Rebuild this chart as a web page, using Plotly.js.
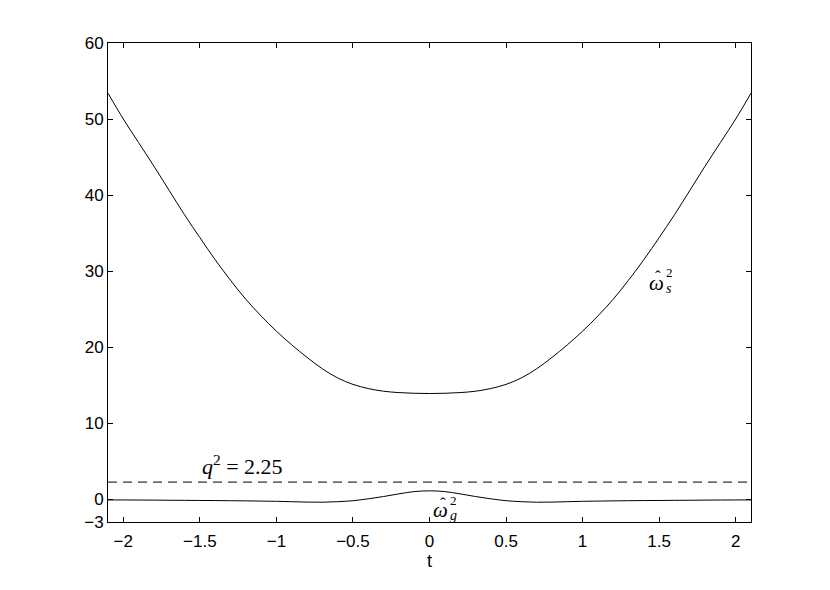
<!DOCTYPE html>
<html>
<head>
<meta charset="utf-8">
<script src="https://cdn.plot.ly/plotly-3.0.1.min.js"></script>
<style>html,body{margin:0;padding:0;background:#fff;}#chart{width:830px;height:590px;}</style>
</head>
<body>
<div id="chart"></div>
<script>
// time samples
const tValues = [-2.1,-2.0,-1.9,-1.8,-1.7,-1.6,-1.5,-1.4,-1.3,-1.2,-1.1,-1.0,-0.9,-0.8,-0.7,-0.6,-0.5,-0.4,-0.3,-0.2,-0.1,0,
                 0.1,0.2,0.3,0.4,0.5,0.6,0.7,0.8,0.9,1.0,1.1,1.2,1.3,1.4,1.5,1.6,1.7,1.8,1.9,2.0,2.1];
// omega_s^2
const omegaS2 = [53.4,50.0,46.9,43.8,40.6,37.4,34.4,31.5,28.8,26.3,24.1,22.1,20.3,18.65,17.15,15.95,15.1,14.55,14.2,14.02,13.93,13.9,
                 13.93,14.02,14.2,14.55,15.1,15.95,17.15,18.65,20.3,22.1,24.1,26.3,28.8,31.5,34.4,37.4,40.6,43.8,46.9,50.0,53.4];
// omega_g^2
const omegaG2 = [-0.1,-0.1,-0.11,-0.12,-0.14,-0.15,-0.17,-0.18,-0.2,-0.22,-0.25,-0.28,-0.33,-0.38,-0.4,-0.33,-0.2,0.05,0.35,0.7,1.0,1.1,
                 1.0,0.7,0.35,0.05,-0.2,-0.33,-0.4,-0.38,-0.33,-0.28,-0.25,-0.22,-0.2,-0.18,-0.17,-0.15,-0.14,-0.12,-0.11,-0.1,-0.1];
const qSquared = 2.25;
const xRange = [-2.1, 2.1];
const yRange = [-3, 60];
const xTicks = [-2,-1.5,-1,-0.5,0,0.5,1,1.5,2];
const yTicks = [-3,0,10,20,30,40,50,60];

const serif = 'Liberation Serif, DejaVu Serif, serif';

const traces = [
  {x: tValues, y: omegaS2, mode: 'lines', line: {color: '#000', width: 1, shape: 'spline', smoothing: 1}, hoverinfo: 'skip'},
  {x: tValues, y: omegaG2, mode: 'lines', line: {color: '#000', width: 1, shape: 'spline', smoothing: 1}, hoverinfo: 'skip'},
  {x: xRange, y: [qSquared, qSquared], mode: 'lines', line: {color: '#000', width: 1, dash: '9px,6px'}, hoverinfo: 'skip'}
];

function ann(x, y, text, size) {
  return {x: x, y: y, text: text, showarrow: false, xanchor: 'center', yanchor: 'middle',
          font: {family: serif, size: size, color: '#000'}};
}

const layout = {
  width: 830, height: 590,
  margin: {l: 108, r: 79, t: 43, b: 68},
  paper_bgcolor: '#fff', plot_bgcolor: '#fff',
  showlegend: false,
  font: {family: 'Liberation Sans, Arial, sans-serif', size: 17, color: '#000'},
  xaxis: {
    range: xRange, tickvals: xTicks, ticks: 'inside', ticklen: 5, tickcolor: '#000',
    ticklabelstandoff: 4,
    showline: true, linecolor: '#000', linewidth: 1, mirror: 'ticks',
    showgrid: false, zeroline: false,
    title: {text: 't', font: {size: 18}, standoff: 0}
  },
  yaxis: {
    range: yRange, tickvals: yTicks, ticks: 'inside', ticklen: 5, tickcolor: '#000',
    showline: true, linecolor: '#000', linewidth: 1, mirror: 'ticks',
    showgrid: false, zeroline: false
  },
  annotations: [
    ann(-1.22, 4.55, '<i>q</i><sup>2</sup> = 2.25', 22),
    ann(1.48, 28.4, '<i>ω</i>', 21),
    ann(1.49, 29.3, 'ˆ', 17),
    ann(1.565, 29.8, '2', 13),
    ann(1.565, 27.7, '<i>s</i>', 14),
    ann(0.075, -1.45, '<i>ω</i>', 21),
    ann(0.085, -0.6, 'ˆ', 17),
    ann(0.158, -0.2, '2', 13),
    ann(0.155, -2.1, '<i>g</i>', 14)
  ]
};

Plotly.newPlot('chart', traces, layout, {displayModeBar: false, staticPlot: true});
</script>
</body>
</html>
